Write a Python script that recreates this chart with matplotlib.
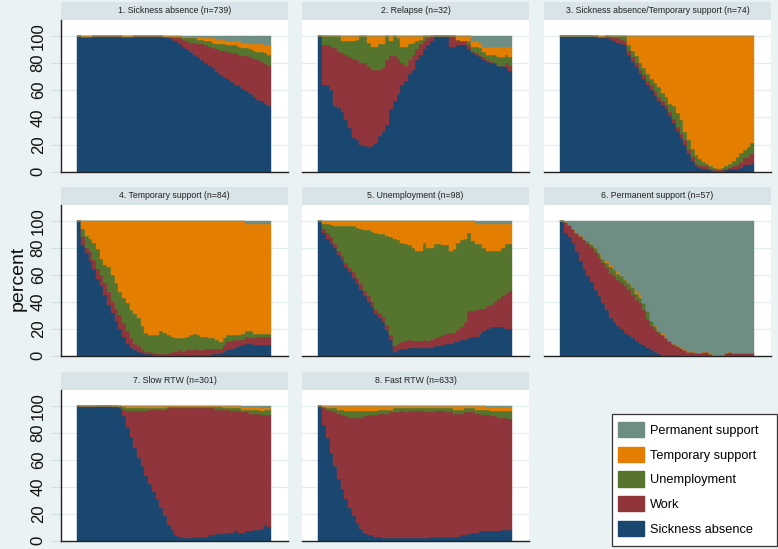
import matplotlib
matplotlib.use('Agg')
import matplotlib.pyplot as plt
import numpy as np
from matplotlib.patches import Patch, Rectangle

plt.rcParams['font.family'] = ['Liberation Sans', 'DejaVu Sans']

states = ['Sickness absence', 'Work', 'Unemployment', 'Temporary support', 'Permanent support']
colors = ['#1a476f', '#90353b', '#55752f', '#e37e00', '#6e8e84']
titles = ['1. Sickness absence (n=739)', '2. Relapse (n=32)',
          '3. Sickness absence/Temporary support (n=74)', '4. Temporary support (n=84)',
          '5. Unemployment (n=98)', '6. Permanent support (n=57)',
          '7. Slow RTW (n=301)', '8. Fast RTW (n=633)']
yticks = [0, 20, 40, 60, 80, 100]

# ---- Panel 1 ----
p1_sick = [100,99,99,99,99,99,99,99,99,99, 99,99,99,99,99,99,99,99,99,99,
           99,99,99,99,98,97,96,94,92,90, 88,86,84,82,80,78,76,73,71,70,
           68,66,64,63,61,59,57,55,53,52, 50,48]
p1_work = [0,0,0,0,1,1,1,1,1,1, 1,1,0,0,0,1,1,1,1,1,
           1,1,1,0,1,2,2,4,5,6, 7,9,10,12,13,14,15,17,18,19,
           20,21,23,23,24,26,27,28,29,29, 29,30]
p1_unemp = [0,0,0,0,0,0,0,0,0,0, 0,0,0,0,0,0,0,0,0,0,
            0,0,0,0,0,0,1,1,1,2, 3,3,3,3,3,4,4,4,5,5,
            5,6,6,6,6,6,6,6,6,7, 8,8]
p1_temp = [0,1,1,1,0,0,0,0,0,0, 0,0,1,1,1,0,0,0,0,0,
           0,0,0,1,1,1,1,1,1,1, 1,1,2,2,2,2,3,3,3,3,
           3,3,3,4,4,4,4,5,6,6, 6,7]
p1_perm = [0,0,0,0,0,0,0,0,0,0, 0,0,0,0,0,0,0,0,0,0,
           0,0,0,0,0,0,0,0,1,1, 1,1,1,1,2,2,2,3,3,3,
           4,4,4,4,5,5,6,6,6,6, 7,7]

# ---- Panel 2 ----
p2_sick = [100,64,64,60,48,47,44,38,32,25, 23,20,19,18,19,21,26,30,34,46,
           52,57,64,67,72,75,82,86,90,93, 96,100,100,100,100,92,92,93,93,93,
           90,88,86,84,82,81,80,80,78,78, 77,74]
p2_work = [0,29,29,32,43,41,43,48,52,58, 59,60,61,59,56,54,49,46,48,39,
           33,26,16,11,10,11,8,8,6,5, 4,0,0,0,0,8,8,4,3,3,
           3,0,1,1,2,1,1,0,0,0, 3,4]
p2_unemp = [0,7,7,8,9,12,9,10,12,13, 15,20,20,18,17,17,19,18,18,11,
            15,15,12,14,12,9,6,3,4,2, 0,0,0,0,0,0,0,0,0,0,
            3,4,5,6,4,4,5,6,6,6, 6,6]
p2_temp = [0,0,0,0,0,0,4,4,4,4, 3,0,0,5,8,8,6,6,0,4,
           0,2,8,8,6,5,4,3,0,0, 0,0,0,0,0,0,0,3,4,4,
           4,4,4,4,4,6,6,6,8,8, 6,8]
p2_perm = [0,0,0,0,0,0,0,0,0,0, 0,0,0,0,0,0,0,0,0,0,
           0,0,0,0,0,0,0,0,0,0, 0,0,0,0,0,0,0,0,0,0,
           0,4,4,5,8,8,8,8,8,8, 8,8]

# ---- Panel 3 ----
p3_sick = [100,100,100,100,100,100,100,100,100,99, 98,98,98,97,96,95,94,93,86,81,
           77,72,68,64,60,56,52,49,46,41, 36,30,25,20,13,8,4,3,2,2,
           1,0,0,0,1,2,2,2,3,5, 5,6]
p3_work = [0,0,0,0,0,0,0,0,0,1, 1,1,2,2,2,3,3,3,3,3,
           3,3,3,3,3,3,3,3,3,3, 3,3,3,3,3,3,2,2,2,2,
           1,1,1,1,1,1,2,3,4,5, 6,7]
p3_unemp = [0,0,0,0,0,0,0,0,0,0, 0,0,0,1,2,2,3,4,4,5,
            5,5,5,5,5,6,7,6,6,6, 9,10,10,6,7,6,6,4,3,2,
            2,2,1,2,2,3,4,6,7,6, 7,8]
p3_temp = [0,0,0,0,0,0,0,0,0,0, 1,1,0,0,0,0,0,0,7,11,
           15,20,24,28,32,35,38,42,45,50, 52,57,62,71,77,83,88,91,93,94,
           96,97,98,97,96,94,92,89,86,84, 82,79]
p3_perm = [0,0,0,0,0,0,0,0,0,0, 0,0,0,0,0,0,0,0,0,0,
           0,0,0,0,0,0,0,0,0,0, 0,0,0,0,0,0,0,0,0,0,
           0,0,0,0,0,0,0,0,0,0, 0,0]

# ---- Panel 4 ----
p4_sick = [100,82,76,70,64,57,52,45,38,32, 26,20,14,9,6,4,3,2,1,1,
           0,0,0,0,0,0,0,0,0,0, 0,0,0,0,0,0,1,1,2,3,
           4,5,6,7,8,9,9,8,8,8, 8,8]
p4_work = [0,6,4,7,7,7,8,9,9,8, 9,10,10,9,7,5,4,3,2,2,
           2,1,1,1,2,3,3,4,3,4, 4,5,4,4,5,5,4,4,3,5,
           6,6,6,5,4,5,4,5,6,6, 6,6]
p4_unemp = [0,6,9,10,13,15,12,13,19,20, 19,17,19,21,21,22,21,17,14,12,
            13,14,17,16,13,11,10,9,10,10, 11,11,11,10,9,8,8,7,5,5,
            5,4,3,3,4,4,5,3,2,2, 2,2]
p4_temp = [0,6,11,13,16,21,28,33,34,40, 46,53,57,61,66,69,72,78,83,85,
           85,85,82,83,85,86,87,87,87,86, 85,84,85,86,86,87,87,88,90,87,
           85,85,85,85,84,80,80,82,82,82, 82,82]
p4_perm = [0,0,0,0,0,0,0,0,0,0, 0,0,0,0,0,0,0,0,0,0,
           0,0,0,0,0,0,0,0,0,0, 0,0,0,0,0,0,0,0,0,0,
           0,0,0,0,0,2,2,2,2,2, 2,2]

# ---- Panel 5 ----
p5_sick = [100,91,87,84,80,75,71,66,62,58, 54,49,44,40,36,31,28,25,19,12,
           3,4,5,5,6,6,6,6,6,6, 6,7,7,8,9,9,10,10,12,12,
           13,14,14,16,18,20,21,21,21,21, 20,20]
p5_work = [0,3,4,4,3,3,3,3,3,4, 4,4,4,4,4,4,4,4,4,3,
           4,5,5,6,6,5,5,5,6,5, 6,6,7,7,7,8,7,9,9,13,
           20,19,20,19,17,17,17,19,21,23, 26,28]
p5_unemp = [0,4,7,9,13,18,22,27,31,34, 37,41,45,49,52,56,58,61,66,73,
            80,77,74,72,70,69,67,67,72,69, 68,70,69,67,66,61,62,65,65,62,
            58,52,49,48,45,41,40,38,36,36, 37,35]
p5_temp = [0,2,2,3,4,4,4,4,4,4, 5,6,7,7,8,9,10,10,11,12,
           13,14,16,17,18,20,22,22,16,20, 20,17,17,18,18,22,21,16,14,13,
           9,15,15,15,18,20,20,20,20,18, 15,15]
p5_perm = [0,0,0,0,0,0,0,0,0,0, 0,0,0,0,0,0,0,0,0,0,
           0,0,0,0,0,0,0,0,0,0, 0,0,0,0,0,0,0,0,0,0,
           0,0,2,2,2,2,2,2,2,2, 2,2]

# ---- Panel 6 ----
p6_sick = [100,91,88,84,77,70,64,59,55,49, 44,39,34,28,25,22,20,17,15,13,
           11,9,8,6,4,3,1,0,0,0, 0,0,0,0,0,0,0,0,0,0,
           0,0,0,0,0,0,0,0,0,0, 0,0]
p6_work = [0,8,9,10,14,19,22,24,26,28, 29,30,31,33,34,34,34,35,34,32,
           30,30,26,21,18,17,16,15,13,11, 9,7,6,4,3,3,2,2,3,3,
           1,0,0,0,2,3,2,2,2,2, 2,2]
p6_unemp = [0,0,0,0,0,0,1,2,2,3, 3,3,4,5,5,5,5,4,5,6,
            5,4,5,6,4,2,1,0,0,0, 0,0,0,0,0,0,0,0,0,0,
            0,0,0,0,0,0,0,0,0,0, 0,0]
p6_temp = [0,0,0,0,0,0,0,0,0,0, 0,0,1,1,0,1,1,1,0,0,
           1,1,0,0,0,0,0,1,0,0, 0,0,0,0,0,0,0,0,0,0,
           0,0,0,0,0,0,0,0,0,0, 0,0]
p6_perm = [0,1,3,6,9,11,13,15,17,20, 24,28,30,33,36,38,40,43,46,49,
           53,56,61,67,74,78,82,84,87,89, 91,93,94,96,97,97,98,98,97,97,
           99,100,100,100,98,97,98,98,98,98, 98,98]

# ---- Panel 7 ----
p7_sick = [100,99,99,99,99,100,100,100,100,99, 99,98,92,84,77,69,61,55,48,42,
           36,31,24,18,12,8,4,3,2,2, 2,3,3,3,3,4,4,5,5,5,
           6,6,7,6,6,7,7,8,8,9, 12,10]
p7_work = [0,1,1,1,1,0,0,0,0,1, 1,1,5,12,19,27,35,41,48,55,
           61,66,73,79,86,90,94,95,96,96, 96,95,95,95,95,94,94,92,92,92,
           91,90,89,90,89,88,87,86,86,84, 81,83]
p7_unemp = [0,0,0,0,0,0,0,0,0,0, 0,1,2,2,2,2,2,2,2,1,
            1,1,1,1,1,1,1,1,1,1, 1,1,1,1,1,1,1,2,2,1,
            1,2,2,2,2,2,3,3,3,3, 4,4]
p7_temp = [0,0,0,0,0,0,0,0,0,0, 0,0,1,2,2,2,2,2,2,2,
           2,2,2,2,1,1,1,1,1,1, 1,1,1,1,1,1,1,1,1,2,
           2,2,2,2,2,2,2,2,2,2, 1,1]
p7_perm = [0,0,0,0,0,0,0,0,0,0, 0,0,0,0,0,0,0,0,0,0,
           0,0,0,0,0,0,0,0,0,0, 0,0,0,0,0,0,0,0,0,0,
           0,0,0,0,1,1,1,1,1,2, 2,2]

# ---- Panel 8 ----
p8_sick = [100,86,76,65,55,46,38,31,24,18, 13,9,6,4,4,3,3,2,2,2,
           2,2,2,2,2,2,2,2,2,2, 3,3,3,3,3,3,3,3,4,4,
           5,6,6,7,7,7,7,7,7,8, 8,8]
p8_work = [0,12,21,31,40,48,55,61,67,73, 78,82,86,89,89,90,91,92,92,93,
           93,93,94,93,94,94,94,94,94,93, 92,93,93,93,92,92,91,91,90,91,
           90,89,88,87,86,86,85,85,84,83, 83,82]
p8_unemp = [0,1,1,2,3,3,4,4,5,5, 5,5,4,3,3,3,3,3,3,2,
            3,3,2,3,2,2,2,2,2,3, 3,2,2,2,3,3,3,3,3,3,
            3,3,3,3,4,4,4,4,5,5, 5,6]
p8_temp = [0,1,2,2,2,3,3,4,4,4, 4,4,4,4,4,4,3,3,3,3,
           2,2,2,2,2,2,2,2,2,2, 2,2,2,2,2,2,3,3,3,2,
           2,2,3,3,3,2,3,3,3,3, 3,3]
p8_perm = [0,0,0,0,0,0,0,0,0,0, 0,0,0,0,0,0,0,0,0,0,
           0,0,0,0,0,0,0,0,0,0, 0,0,0,0,0,0,0,0,0,0,
           0,0,0,0,0,1,1,1,1,1, 1,1]

panel_data = [
    [p1_sick, p1_work, p1_unemp, p1_temp, p1_perm],
    [p2_sick, p2_work, p2_unemp, p2_temp, p2_perm],
    [p3_sick, p3_work, p3_unemp, p3_temp, p3_perm],
    [p4_sick, p4_work, p4_unemp, p4_temp, p4_perm],
    [p5_sick, p5_work, p5_unemp, p5_temp, p5_perm],
    [p6_sick, p6_work, p6_unemp, p6_temp, p6_perm],
    [p7_sick, p7_work, p7_unemp, p7_temp, p7_perm],
    [p8_sick, p8_work, p8_unemp, p8_temp, p8_perm],
]

# ---------------- layout (pixels) ----------------
W, H = 778, 549
BG = '#eaf2f3'
STRIP = '#d8e4e8'
fig = plt.figure(figsize=(W / 100, H / 100), dpi=100, facecolor=BG)

col_left = [61, 302, 544]      # left edge of white plot region
ax_w = 227
row_zero = [171.7, 355.7, 540.7]   # y pixel of 0 line
row_hundred = [35.7, 221.0, 405.7] # y pixel of 100 line
n_weeks = 52
xlim = (-4.4, 56.5)

def fx(px):
    return px / W

def fy(py):
    return 1 - py / H

for i, (title, series) in enumerate(zip(titles, panel_data)):
    r, c = divmod(i, 3)
    y0 = row_zero[r]
    y100 = row_hundred[r]
    scale = (y0 - y100) / 100.0
    top = y100 - 16
    left = col_left[c]
    ax = fig.add_axes([fx(left), fy(y0), fx(ax_w), (y0 - top) / H])
    ax.set_facecolor('white')
    ax.set_xlim(*xlim)
    ax.set_ylim(0, 100 + 16 / scale)
    ax.set_yticks(yticks)
    ax.yaxis.grid(True, color='#e3ecef', lw=0.9)
    ax.set_axisbelow(True)
    ax.set_xticks([])
    for s in ['top', 'right']:
        ax.spines[s].set_visible(False)
    ax.spines['bottom'].set_color('#222222')
    ax.spines['bottom'].set_linewidth(1.0)
    if c == 0:
        ax.spines['left'].set_color('#222222')
        ax.spines['left'].set_linewidth(1.0)
        ax.tick_params(axis='y', length=7, width=0.8, color='#d3dde0',
                       labelsize=12, pad=4, labelrotation=90,
                       labelcolor='#111111')
        for lab in ax.get_yticklabels():
            lab.set_va('center')
    else:
        ax.spines['left'].set_visible(False)
        ax.tick_params(axis='y', length=0, labelleft=False)

    x = np.arange(n_weeks + 1)
    base = np.zeros(n_weeks + 1)
    for vals, col in zip(series, colors):
        v = np.array(vals, dtype=float)
        v = np.append(v, v[-1])
        ax.fill_between(x, base, base + v, step='post', facecolor=col,
                        edgecolor=col, linewidth=0.3, zorder=2)
        base = base + v

    # title strip
    fig.add_artist(Rectangle((fx(left), fy(top)), fx(ax_w), 18 / H,
                             transform=fig.transFigure, facecolor=STRIP,
                             edgecolor='none', zorder=0))
    fig.text(fx(left + ax_w / 2), fy(top - 9), title, ha='center', va='center',
             fontsize=6.3, color='#222222')

fig.text(fx(18), fy(278), 'percent', rotation=90, ha='center', va='center',
         fontsize=14, color='#111111')

# legend box drawn at its pixel place, entries inside
fig.add_artist(Rectangle((fx(612), fy(546)), fx(165), 132 / H,
                         transform=fig.transFigure, facecolor='white',
                         edgecolor='#333333', linewidth=0.9, zorder=3))
handles = [Patch(facecolor=col, edgecolor=col, label=lab)
           for lab, col in zip(states, colors)][::-1]
leg = fig.legend(handles=handles, loc='upper left',
                 bbox_to_anchor=(fx(615), fy(419)), frameon=False,
                 fontsize=9.2, handlelength=2.0, handleheight=1.45,
                 labelspacing=0.74, borderpad=0.25, handletextpad=0.5,
                 borderaxespad=0)
leg.set_zorder(4)

fig.savefig('out.png', dpi=100, facecolor=BG)
